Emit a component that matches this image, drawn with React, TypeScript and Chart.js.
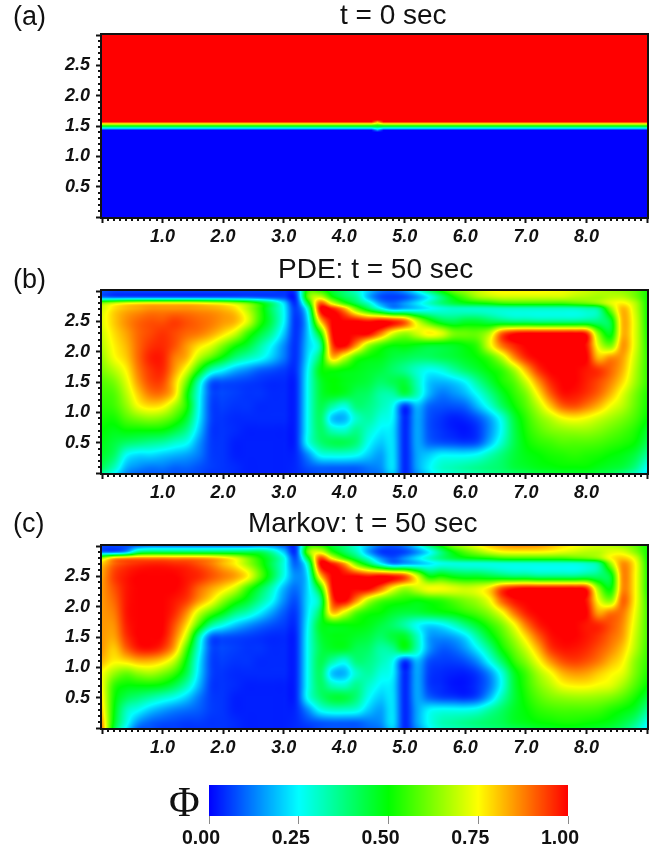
import React, { useEffect, useRef } from "react";
import { Chart, registerables } from "chart.js";

Chart.register(...registerables);

// grid node positions of the two simulated fields
const FIELD_X = [0,0.2,0.4,0.6,0.8,1,1.2,1.4,1.6,1.8,2,2.2,2.4,2.6,2.8,3,3.2,3.4,3.6,3.8,4,4.2,4.4,4.6,4.8,5,5.2,5.4,5.6,5.8,6,6.2,6.4,6.6,6.8,7,7.2,7.4,7.6,7.8,8,8.2,8.4,8.6,8.8,9];
const FIELD_Y = [3,2.9,2.8,2.7,2.5,2.3,2.1,1.9,1.7,1.5,1.3,1.1,0.9,0.7,0.5,0.3,0.1,0];

// Phi in percent, one row per FIELD_Y entry
const PDE_ROWS = [
[8,6,6,6,6,6,6,6,6,6,6,6,6,6,6,5,8,55,55,45,38,30,20,12,10,15,25,38,50,60,65,70,74,76,76,76,76,75,74,72,70,68,66,64,60,52],
[12,10,10,10,10,10,10,10,10,10,10,10,10,9,8,7,5,58,70,52,42,35,18,8,6,8,15,25,38,50,58,65,68,70,70,70,70,70,70,68,67,66,68,68,62,52],
[62,68,72,74,75,75,75,75,74,72,70,66,60,50,38,22,5,45,90,72,55,42,30,15,10,15,22,30,38,44,48,50,52,55,56,56,56,56,56,58,60,64,72,76,68,52],
[70,78,82,84,86,86,86,86,85,84,82,78,68,55,40,25,6,30,98,98,85,62,45,30,18,20,22,25,28,30,30,30,30,30,30,30,30,30,30,30,32,36,62,82,70,52],
[72,80,86,90,92,92,94,92,90,88,85,82,72,55,42,25,5,22,78,100,100,100,98,100,97,90,70,55,45,42,45,45,42,40,38,38,37,37,37,37,38,38,45,82,72,52],
[70,78,84,90,93,95,93,90,88,84,78,70,56,45,35,20,5,20,50,98,100,100,100,88,72,65,70,76,72,62,60,60,68,90,98,100,100,100,100,100,96,62,48,82,72,53],
[68,76,82,90,95,96,92,85,78,72,62,52,45,35,25,14,5,20,35,92,100,85,65,55,50,50,48,46,46,47,50,55,72,88,96,100,100,100,100,100,98,72,62,85,72,54],
[65,74,80,90,97,97,88,82,68,58,48,38,32,27,20,12,5,22,42,80,70,55,50,48,44,42,40,40,42,44,47,50,56,68,85,96,100,100,100,100,100,82,86,84,70,55],
[62,68,76,88,95,96,85,72,52,33,25,18,14,10,8,6,5,25,48,52,50,48,46,44,40,36,30,26,28,34,40,45,50,55,66,82,95,100,100,100,98,95,90,82,68,55],
[58,62,72,85,93,93,80,60,32,10,8,7,6,5,4,4,4,26,45,50,48,46,44,40,42,44,32,20,18,20,25,35,44,52,58,70,85,96,100,100,97,93,87,78,66,55],
[56,58,68,80,88,88,78,52,27,8,7,6,5,5,4,4,4,26,44,48,46,42,40,34,34,42,32,18,12,14,18,26,36,46,54,62,76,90,98,98,95,90,82,72,62,53],
[54,56,64,74,78,76,66,52,26,7,6,5,5,4,4,4,4,26,42,34,28,38,37,32,26,6,18,10,8,8,10,18,28,40,50,58,68,80,90,92,88,82,74,68,60,52],
[52,52,58,62,64,62,56,45,24,7,5,4,4,4,4,4,4,26,40,20,18,30,34,28,24,4,16,8,5,3,4,8,16,28,44,54,62,68,74,76,74,70,66,62,57,50],
[50,48,50,50,50,49,44,36,20,6,5,4,3,3,3,3,4,26,40,32,30,36,30,24,22,4,16,8,5,3,2,5,14,26,42,52,58,62,64,65,65,63,60,57,53,46],
[48,44,40,38,36,34,30,26,15,6,5,3,3,3,3,3,4,26,38,42,42,38,26,20,22,4,16,10,8,7,6,8,18,30,42,50,54,56,58,58,58,57,55,53,50,42],
[46,40,26,22,22,20,18,16,12,6,5,3,3,3,3,3,4,14,26,28,28,26,20,16,22,4,16,20,24,24,24,26,32,38,44,48,50,52,53,54,53,52,50,48,44,35],
[42,32,18,14,12,12,10,10,8,6,5,4,3,3,3,3,4,8,10,10,10,10,12,14,22,4,16,24,30,32,34,36,38,40,44,46,48,49,50,50,50,48,46,44,38,26],
[36,26,14,10,9,9,8,8,7,5,5,4,3,3,3,3,4,6,8,8,8,8,10,12,20,4,14,22,28,30,32,34,36,38,40,42,44,45,46,46,46,44,42,38,32,22],
];

const MARKOV_ROWS = [
[6,6,7,10,12,12,12,12,12,12,12,12,12,14,14,10,6,52,55,45,38,28,18,10,8,12,22,36,50,62,68,74,80,84,86,86,85,82,78,75,72,70,68,65,60,52],
[12,12,18,38,42,42,42,42,42,42,42,42,42,42,34,20,6,60,72,54,42,32,16,6,5,7,14,24,38,50,58,64,70,74,75,75,75,74,72,70,68,68,72,72,64,52],
[65,80,84,86,86,86,85,85,84,82,78,72,62,52,42,28,8,46,92,74,56,42,28,14,8,14,22,30,38,44,48,50,52,55,56,56,56,56,56,58,60,64,75,80,72,52],
[80,90,94,96,97,97,96,95,92,88,82,76,66,55,42,28,10,32,98,98,86,62,45,28,16,18,20,23,27,28,28,28,28,28,28,28,28,28,28,28,30,36,64,86,76,53],
[84,94,98,100,100,100,100,98,96,92,88,84,76,60,44,27,14,24,78,100,100,100,98,100,98,92,72,50,52,48,46,46,44,42,40,40,38,38,38,38,40,40,46,86,76,54],
[85,92,98,100,100,100,100,97,90,84,78,70,56,44,32,18,11,22,50,98,100,100,100,90,75,66,70,74,74,72,70,72,78,92,98,100,100,100,100,100,96,64,50,86,76,54],
[85,90,98,100,100,100,98,94,85,76,64,54,46,36,26,14,8,22,36,92,100,86,68,58,54,52,50,52,54,58,62,66,74,90,98,100,100,100,100,100,98,74,64,90,76,56],
[85,88,98,100,100,100,96,86,70,58,48,38,32,24,16,9,6,23,42,80,72,58,52,50,46,44,44,46,48,50,54,58,64,74,88,97,100,100,100,100,100,84,88,88,74,57],
[85,86,97,100,100,100,92,78,56,36,27,20,15,11,8,6,5,25,46,50,50,50,48,44,40,34,26,22,24,30,38,46,54,62,74,88,97,100,100,100,98,96,92,86,72,57],
[85,84,95,100,100,99,88,68,34,10,8,7,6,5,4,4,4,26,44,48,48,46,44,40,44,46,32,16,14,16,22,34,46,56,66,78,90,98,100,100,98,95,90,84,70,57],
[85,80,90,97,98,94,82,56,28,8,7,6,5,5,4,4,4,26,42,46,46,42,40,34,36,46,32,15,9,10,15,24,36,50,60,70,82,94,98,98,96,92,87,80,68,56],
[82,76,78,82,82,78,68,48,24,7,6,5,5,4,4,4,4,26,42,34,28,38,37,32,26,6,18,8,6,6,8,14,26,40,54,63,74,85,92,94,92,88,82,76,64,55],
[75,65,60,64,66,62,55,42,22,7,5,4,4,4,4,4,4,26,40,20,18,30,34,28,24,4,16,6,4,3,3,6,14,28,46,56,66,74,82,85,84,80,76,72,62,53],
[75,55,50,50,50,48,42,32,18,6,5,4,3,3,3,3,4,26,40,32,30,36,30,24,22,4,16,6,4,2,2,5,12,26,44,54,62,68,74,76,76,74,72,66,58,50],
[77,52,42,38,34,30,26,20,12,6,5,3,3,3,3,3,4,26,38,44,44,38,26,20,22,4,16,10,7,6,5,8,18,32,44,52,58,62,64,65,65,64,62,58,52,44],
[80,50,32,26,20,16,13,11,9,6,5,3,3,3,3,3,4,14,26,30,30,28,20,16,22,4,16,24,26,26,26,28,34,40,46,50,54,56,57,57,57,56,53,50,46,36],
[85,48,28,15,10,8,7,6,6,5,5,4,3,3,3,3,4,7,9,10,10,10,12,14,22,4,16,26,32,34,36,38,40,42,46,48,50,51,52,52,51,50,48,44,38,27],
[88,45,24,10,8,6,6,5,5,5,5,4,3,3,3,3,4,5,7,8,8,8,10,12,20,4,14,24,30,32,34,36,38,40,42,44,46,47,48,48,47,46,44,40,33,23],
];

// initial state: a sharp front at y = 1.5
const INIT_X = [0,4.45,4.55,4.65,9];
const INIT_Y = [3,1.6,1.57,1.43,1.4,0];
const INIT_ROWS = [
[100,100,100,100,100],
[100,100,100,100,100],
[100,100,85,100,100],
[0,0,14,0,0],
[0,0,0,0,0],
[0,0,0,0,0],
];

const BAR_X = [0,0.25,0.5,0.75,1];
const BAR_Y = [1,0];
const BAR_ROWS = [
[0,25,50,75,100],
[0,25,50,75,100],
];

const MAJOR_X = [0,1,2,3,4,5,6,7,8];
const MAJOR_Y = [0,0.5,1,1.5,2,2.5];
const MINOR_TICKS_X = [0.1,0.2,0.3,0.4,0.5,0.6,0.7,0.8,0.9];
const MINOR_TICKS_Y = [0.1,0.2,0.3,0.4];

const TITLES = ["t = 0 sec", "PDE: t = 50 sec", "Markov: t = 50 sec"];
const TITLE_LEFT = [340, 278, 248];
const TITLE_TOP = [0, 254, 508];
const PANEL_LABELS = ["(a)", "(b)", "(c)"];
const LABEL_TOP = [1, 264, 508];
const BAR_TICKS = [0, 0.25, 0.5, 0.75, 1];

function rainbow(v: number): [number, number, number] {
  const t = Math.max(0, Math.min(1, v / 100)) * 4;
  if (t < 1) return [0, Math.round(255 * t), 255];
  if (t < 2) return [0, 255, Math.round(255 * (2 - t))];
  if (t < 3) return [Math.round(255 * (t - 2)), 255, 0];
  return [255, Math.round(255 * (4 - t)), 0];
}

function bracket(list: number[], value: number): [number, number] {
  // list is in ascending order
  let i = 0;
  while (i < list.length - 2 && value > list[i + 1]) i++;
  const f = (value - list[i]) / (list[i + 1] - list[i]);
  return [i, Math.max(0, Math.min(1, f))];
}

// shading between grid nodes: Hermite with centred slopes, or straight lines
function shade(pos: number[], val: (k: number) => number, i: number, t: number, smooth: boolean) {
  const a = val(i), b = val(i + 1);
  if (!smooth) return a + (b - a) * t;
  const n = pos.length - 1;
  const h = pos[i + 1] - pos[i];
  const i0 = Math.max(0, i - 1), i3 = Math.min(n, i + 2);
  const m1 = ((b - val(i0)) / (pos[i + 1] - pos[i0])) * h;
  const m2 = ((val(i3) - a) / (pos[i3] - pos[i])) * h;
  const t2 = t * t, t3 = t2 * t;
  return (2 * t3 - 3 * t2 + 1) * a + (t3 - 2 * t2 + t) * m1 + (-2 * t3 + 3 * t2) * b + (t3 - t2) * m2;
}

const heatmapPlugin = {
  id: "heatmap",
  beforeDatasetsDraw(chart: any, _a: any, o: any) {
    const { left, right, top, bottom } = chart.chartArea;
    const x0 = Math.round(left), y0 = Math.round(top);
    const w = Math.round(right) - x0, h = Math.round(bottom) - y0;
    const xs: number[] = o.xs;
    const ysAsc: number[] = [...o.ys].reverse();
    const rowsAsc: number[][] = [...o.rows].reverse();
    const img = chart.ctx.createImageData(w, h);
    const xb = [];
    for (let i = 0; i < w; i++) xb.push(bracket(xs, chart.scales.x.getValueForPixel(x0 + i + 0.5)));
    const line = new Array(xs.length).fill(0);
    for (let j = 0; j < h; j++) {
      const [r, fy] = bracket(ysAsc, chart.scales.y.getValueForPixel(y0 + j + 0.5));
      for (let c = 0; c < xs.length; c++) line[c] = shade(ysAsc, (k) => rowsAsc[k][c], r, fy, o.smooth);
      for (let i = 0; i < w; i++) {
        const [c, fx] = xb[i];
        const [R, G, B] = rainbow(shade(xs, (k) => line[k], c, fx, o.smooth));
        const k = (j * w + i) * 4;
        img.data[k] = R; img.data[k + 1] = G; img.data[k + 2] = B; img.data[k + 3] = 255;
      }
    }
    chart.ctx.putImageData(img, x0, y0);
  },
};

const framePlugin = {
  id: "frame",
  afterDraw(chart: any, _a: any, o: any) {
    if (!o.on) return;
    const { ctx, chartArea: ca, scales } = chart;
    ctx.save();
    ctx.strokeStyle = "#111";
    ctx.lineWidth = 2;
    ctx.strokeRect(ca.left - 1, ca.top - 1, ca.right - ca.left + 2, ca.bottom - ca.top + 2);
    ctx.beginPath();
    for (const m of MAJOR_X) {
      for (const f of MINOR_TICKS_X) {
        const p = Math.round(scales.x.getPixelForValue(m + f));
        ctx.moveTo(p, ca.bottom); ctx.lineTo(p, ca.bottom + 4);
      }
    }
    for (const m of MAJOR_Y) {
      for (const f of MINOR_TICKS_Y) {
        const p = Math.round(scales.y.getPixelForValue(m + f));
        ctx.moveTo(ca.left, p); ctx.lineTo(ca.left - 4, p);
      }
    }
    ctx.stroke();
    ctx.restore();
  },
};

function nodes(xs: number[], ys: number[], rows: number[][]) {
  const out: { x: number; y: number; v: number }[] = [];
  rows.forEach((row, j) => row.forEach((v, i) => out.push({ x: xs[i], y: ys[j], v })));
  return out;
}

function Panel({ index, xs, ys, rows, smooth }: { index: number; xs: number[]; ys: number[]; rows: number[][]; smooth: boolean }) {
  const ref = useRef<HTMLCanvasElement>(null);
  useEffect(() => {
    const tickFont = { family: "'Liberation Sans'", size: 18, weight: "bold" as const, style: "italic" as const };
    const chart = new Chart(ref.current!, {
      type: "scatter",
      plugins: [heatmapPlugin, framePlugin],
      data: { datasets: [{ label: TITLES[index], data: nodes(xs, ys, rows), pointRadius: 0 }] },
      options: {
        animation: false,
        responsive: false,
        layout: { padding: { right: 14, top: 35 } },
        plugins: {
          legend: { display: false },
          tooltip: { enabled: false },
          heatmap: { xs, ys, rows, smooth },
          frame: { on: true },
        } as any,
        scales: {
          x: {
            type: "linear", min: 0, max: 9,
            afterFit: (s: any) => { s.height = 33; s.paddingLeft = 0; s.paddingRight = 0; },
            border: { display: false },
            grid: { drawOnChartArea: false, tickLength: 6, tickWidth: 2, tickColor: "#111" },
            ticks: {
              stepSize: 1, maxRotation: 0, autoSkip: false, color: "#111", font: tickFont, padding: 3,
              callback: (v: any) => (v > 0 && v < 9 ? Number(v).toFixed(1) : ""),
            },
          },
          y: {
            type: "linear", min: 0, max: 3,
            afterFit: (s: any) => { s.width = 102; s.paddingTop = 0; s.paddingBottom = 0; },
            border: { display: false },
            grid: { drawOnChartArea: false, tickLength: 6, tickWidth: 2, tickColor: "#111" },
            ticks: {
              stepSize: 0.5, autoSkip: false, color: "#111", font: tickFont, padding: 6,
              callback: (v: any) => (v > 0 && v < 3 ? Number(v).toFixed(1) : ""),
            },
          },
        },
      } as any,
    });
    return () => chart.destroy();
  }, []);
  return <canvas ref={ref} width={661} height={250} style={{ position: "absolute", left: 0, top: [0, 256, 511][index] }} />;
}

function ColorBar() {
  const ref = useRef<HTMLCanvasElement>(null);
  useEffect(() => {
    const chart = new Chart(ref.current!, {
      type: "scatter",
      plugins: [heatmapPlugin, framePlugin],
      data: { datasets: [{ label: "Φ", data: nodes(BAR_X, BAR_Y, BAR_ROWS), pointRadius: 0 }] },
      options: {
        animation: false,
        responsive: false,
        layout: { padding: { left: 209, right: 93, top: 15 } },
        plugins: {
          legend: { display: false },
          tooltip: { enabled: false },
          heatmap: { xs: BAR_X, ys: BAR_Y, rows: BAR_ROWS, smooth: false },
          frame: { on: false },
        } as any,
        scales: {
          x: {
            type: "linear", min: 0, max: 1,
            afterFit: (s: any) => { s.height = 37; s.paddingLeft = 0; s.paddingRight = 0; },
            afterBuildTicks: (s: any) => { s.ticks = BAR_TICKS.map((value) => ({ value })); },
            border: { display: false },
            grid: { drawOnChartArea: false, tickLength: 8, tickWidth: 1, tickColor: "#8a8a8a" },
            ticks: {
              maxRotation: 0, autoSkip: false, color: "#111", padding: 3, labelOffset: -8,
              font: { family: "'Liberation Sans'", size: 19.5, weight: "bold" as const },
              callback: (v: any) => Number(v).toFixed(2),
            },
          },
          y: { type: "linear", min: 0, max: 1, display: false },
        },
      } as any,
    });
    return () => chart.destroy();
  }, []);
  return <canvas ref={ref} width={661} height={83} style={{ position: "absolute", left: 0, top: 770 }} />;
}

const labelStyle: React.CSSProperties = {
  position: "absolute", left: 13, fontFamily: "'Liberation Sans'", fontSize: 27, lineHeight: "30px", color: "#111",
};
const titleStyle: React.CSSProperties = {
  position: "absolute", fontFamily: "'Liberation Sans'", fontSize: 28, lineHeight: "30px", color: "#111", whiteSpace: "nowrap",
};

export default function App() {
  return (
    <div style={{ position: "absolute", left: 0, top: 0, width: 661, height: 853, background: "#fff", overflow: "hidden" }}>
      <Panel index={0} xs={INIT_X} ys={INIT_Y} rows={INIT_ROWS} smooth={false} />
      <Panel index={1} xs={FIELD_X} ys={FIELD_Y} rows={PDE_ROWS} smooth={true} />
      <Panel index={2} xs={FIELD_X} ys={FIELD_Y} rows={MARKOV_ROWS} smooth={true} />
      <ColorBar />
      {TITLES.map((t, i) => (
        <div key={t} style={{ ...titleStyle, left: TITLE_LEFT[i], top: TITLE_TOP[i] }}>{t}</div>
      ))}
      {PANEL_LABELS.map((t, i) => (
        <div key={t} style={{ ...labelStyle, top: LABEL_TOP[i] }}>{t}</div>
      ))}
      <div style={{ position: "absolute", left: 169, top: 777, fontFamily: "'Liberation Serif'", fontSize: 42, lineHeight: "50px", color: "#111" }}>Φ</div>
    </div>
  );
}
